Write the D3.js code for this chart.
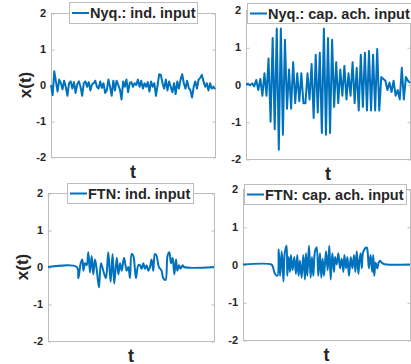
<!DOCTYPE html>
<html>
<head>
<meta charset="utf-8">
<script src="https://cdn.jsdelivr.net/npm/d3@7"></script>
<style>
  body { margin: 0; background: #fff; }
  svg text { font-family: "Liberation Sans", Arial, sans-serif; font-weight: bold; fill: #262626; }
</style>
</head>
<body>
<div id="chart"></div>
<script>
// t is in percent of the shown time window
var yTicks = [-2, -1, 0, 1, 2];

var nyqIndT = d3.range(0, 101, 1);
var nyqIndX = [0.0, -0.28, 0.38, 0.1, -0.18, 0.15, 0.05, -0.12, 0.12, -0.05,
  -0.3, 0.05, 0.1, -0.1, 0.08, -0.22, 0.02, 0.1, -0.05, -0.3,
  0.05, 0.1, -0.05, 0.08, -0.15, 0.02, 0.05, 0.12, -0.05, -0.1,
  0.1, -0.08, 0.05, -0.22, -0.15, 0.15, -0.05, -0.3, 0.12, -0.15,
  0.12, 0.0, -0.12, -0.4, 0.1, -0.05, 0.15, -0.2, 0.05, 0.08,
  -0.05, 0.05, 0.0, 0.15, -0.05, 0.12, -0.1, 0.05, -0.05, 0.08,
  -0.18, 0.1, -0.05, 0.05, -0.3, 0.0, 0.3, 0.28, 0.05, -0.1,
  0.15, -0.15, 0.1, -0.05, -0.2, 0.05, -0.25, 0.1, -0.1, 0.15,
  0.3, 0.05, -0.1, 0.12, -0.08, -0.15, -0.35, -0.05, 0.1, -0.1,
  0.15, 0.2, 0.28, 0.1, -0.05, 0.05, -0.15, 0.05, -0.1, -0.05, -0.12];

var nyqCapT = d3.range(0, 81).map(function(i) { return i * 1.25; });
var nyqCapX = [0.0, 0.02, -0.02, 0.03, -0.05, 0.12, -0.15, 0.15, -0.3, 0.3,
  -0.3, 0.7, -1.0, 1.25, -1.2, 1.5, -1.75, 1.5, -1.35, 1.2,
  -0.65, 0.4, -0.65, 0.6, -0.5, 0.3, -0.45, 0.3, -0.5, -0.5,
  0.3, -0.4, 0.55, -0.9, 0.8, -0.75, 0.85, -1.3, 1.5, -1.35,
  1.25, -1.3, 1.2, -0.6, 0.6, -0.5, 0.4, -0.3, 0.5, -0.4,
  0.3, -0.3, 0.6, -0.5, 0.45, -0.7, 0.8, -0.6, 0.85, -0.7,
  0.9, -0.7, 0.8, -0.7, 0.95, -0.7, 0.2, 0.15, 0.1, -0.15,
  0.05, -0.2, 0.1, -0.3, -0.15, -0.4, 0.45, -0.4, 0.2, 0.1, 0.05];

var ftnIndT = [0, 17.3, 18.3, 19.7, 20.7, 21.3, 22.3, 23.3, 24.3, 25.3, 26.3, 27.3, 28.3, 29.3,
  30.7, 31.9, 33.3, 34.9, 36.3, 37.7, 38.9, 39.9, 41.4, 42.4, 43.4, 44.4, 45.8, 47.4,
  48.4, 49.4, 50.4, 51.4, 53.0, 54.4, 55.4, 56.4, 57.4, 58.4, 59.4, 60.4, 61.4, 62.4,
  63.4, 64.4, 65.4, 66.8, 68.4, 69.4, 70.8, 72.0, 73.1, 74.1, 75.1, 76.1, 77.1, 77.9,
  78.9, 79.9, 81.1, 81.9, 100];
var ftnIndX = [0, 0, -0.3, 0.1, 0.2, -0.1, 0.1, 0.05, 0.4, -0.15, 0.3, -0.2, 0.2, -0.05,
  -0.55, 0.1, -0.1, -0.3, 0.4, -0.4, 0.35, -0.45, 0.25, -0.2, 0.1, -0.1, 0.25, -0.1,
  0.0, -0.3, 0.35, 0.3, -0.3, 0.05, 0.05, -0.05, 0.1, -0.05, 0.05, -0.1, 0.0, 0.2,
  -0.1, 0.35, 0.3, 0.0, -0.1, -0.3, -0.35, 0.3, 0.4, 0.1, 0.25, -0.2, 0.2, -0.1,
  0.05, -0.05, 0.05, 0, 0];

var ftnCapT = [0, 17.0, 17.8, 19.2, 20.6, 21.4, 22.2, 23.2, 24.2, 25.0, 26.1, 26.5, 27.3, 28.1,
  28.7, 29.7, 30.7, 31.7, 32.5, 33.3, 34.1, 35.1, 36.1, 37.1, 37.7, 38.5, 39.5, 40.5,
  41.3, 42.1, 43.1, 44.1, 45.1, 46.1, 46.9, 47.7, 48.5, 49.7, 50.7, 51.7, 52.5, 53.5,
  54.5, 55.1, 56.1, 57.1, 58.1, 59.1, 60.1, 60.7, 61.7, 62.5, 63.5, 64.5, 65.5, 66.5,
  67.3, 68.1, 69.1, 69.7, 70.5, 71.1, 72.1, 74.1, 74.7, 75.4, 76.4, 77.4, 78.0, 78.6,
  79.4, 80.4, 81.2, 82.0, 83.0, 84.0, 86.0, 100];
var ftnCapX = [0, 0, -0.05, -0.25, -0.3, 0.4, -0.3, 0.35, -0.45, 0.3, 0.5, -0.3, 0.2, -0.2,
  0.25, -0.15, 0.2, -0.25, 0.25, -0.3, 0.1, -0.35, 0.25, -0.4, 0.3, -0.3, 0.5, -0.35,
  0.2, -0.3, 0.35, 0.45, -0.3, 0.3, -0.35, 0.15, -0.3, 0.35, -0.15, 0.5, -0.4, 0.3,
  -0.2, 0.2, 0.0, 0.3, -0.1, 0.15, -0.2, 0.25, -0.1, 0.2, -0.3, 0.2, -0.1, 0.25,
  -0.2, 0.35, -0.25, 0.1, 0.3, -0.1, 0.35, 0.45, 0.3, -0.1, 0.25, -0.2, 0.25, -0.3,
  0.05, -0.1, 0.05, 0.1, 0.05, 0.02, 0, 0];

var labels = ["Nyq.: ind. input", "Nyq.: cap. ach. input", "FTN: ind. input", "FTN: cap. ach. input"];

var panels = [
  { t: nyqIndT, x: nyqIndX, label: labels[0], l: 51, r: 215, top: 13, bot: 157, ylab: true, curve: d3.curveLinear,
    lg: [69, 2, 128, 21] },
  { t: nyqCapT, x: nyqCapX, label: labels[1], l: 246, r: 410, top: 10, bot: 159, ylab: false, curve: d3.curveLinear,
    lg: [247, 3, 170, 20] },
  { t: ftnIndT, x: ftnIndX, label: labels[2], l: 48, r: 214, top: 193, bot: 341, ylab: true, curve: d3.curveCatmullRom,
    lg: [67, 183, 126, 20] },
  { t: ftnCapT, x: ftnCapX, label: labels[3], l: 243, r: 410, top: 189, bot: 340, ylab: false, curve: d3.curveCatmullRom,
    lg: [244, 184, 162, 20] }
];

var svg = d3.select('#chart').append('svg')
  .attr('width', 411)
  .attr('height', 364);

var boxColor = '#bdbdbd';
var lineColor = '#0072BD';

panels.forEach(function(p) {
  var x = d3.scaleLinear().domain([0, 100]).range([p.l, p.r]);
  var y = d3.scaleLinear().domain([-2, 2]).range([p.bot, p.top]);
  var g = svg.append('g');

  // box
  g.append('rect')
    .attr('x', p.l + 0.5).attr('y', p.top + 0.5)
    .attr('width', p.r - p.l).attr('height', p.bot - p.top)
    .attr('fill', 'none').attr('stroke', boxColor);

  // inward ticks left and right
  var yl = g.append('g').attr('transform', 'translate(' + (p.l + 0.5) + ',0.5)')
    .call(d3.axisRight(y).tickValues(yTicks).tickSize(3).tickFormat(''));
  var yr = g.append('g').attr('transform', 'translate(' + (p.r + 0.5) + ',0.5)')
    .call(d3.axisLeft(y).tickValues(yTicks).tickSize(3).tickFormat(''));
  [yl, yr].forEach(function(a) {
    a.select('.domain').remove();
    a.selectAll('line').attr('stroke', boxColor);
  });

  // tick labels
  g.selectAll('text.tk').data(yTicks).enter().append('text')
    .attr('class', 'tk')
    .attr('x', p.l - 5)
    .attr('y', function(d) { return y(d) + 4; })
    .attr('text-anchor', 'end')
    .style('font-size', '11px')
    .text(function(d) { return d; });

  var line = d3.line()
    .x(function(d, i) { return x(p.t[i]); })
    .y(function(d) { return y(d); })
    .curve(p.curve);

  g.append('path')
    .datum(p.x)
    .attr('d', line)
    .attr('fill', 'none')
    .attr('stroke', lineColor)
    .attr('stroke-width', 2)
    .attr('stroke-linejoin', 'round');

  // axis labels
  g.append('text')
    .attr('x', (p.l + p.r) / 2)
    .attr('y', p.bot + 21)
    .attr('text-anchor', 'middle')
    .style('font-size', '18px')
    .text('t');

  if (p.ylab) {
    g.append('text')
      .attr('transform', 'translate(' + (p.l - 20) + ',' + ((p.top + p.bot) / 2) + ') rotate(-90)')
      .attr('text-anchor', 'middle')
      .style('font-size', '17px')
      .text('x(t)');
  }

  // legend
  var lg = g.append('g');
  lg.append('rect')
    .attr('x', p.lg[0] + 0.5).attr('y', p.lg[1] + 0.5)
    .attr('width', p.lg[2]).attr('height', p.lg[3])
    .attr('fill', '#fff').attr('stroke', boxColor);
  lg.append('line')
    .attr('x1', p.lg[0] + 3).attr('x2', p.lg[0] + 20)
    .attr('y1', p.lg[1] + p.lg[3] / 2 + 0.5).attr('y2', p.lg[1] + p.lg[3] / 2 + 0.5)
    .attr('stroke', lineColor).attr('stroke-width', 2);
  lg.append('text')
    .attr('x', p.lg[0] + 21)
    .attr('y', p.lg[1] + p.lg[3] / 2 + 5.5)
    .style('font-size', '14.5px')
    .text(p.label);
});
</script>
</body>
</html>
